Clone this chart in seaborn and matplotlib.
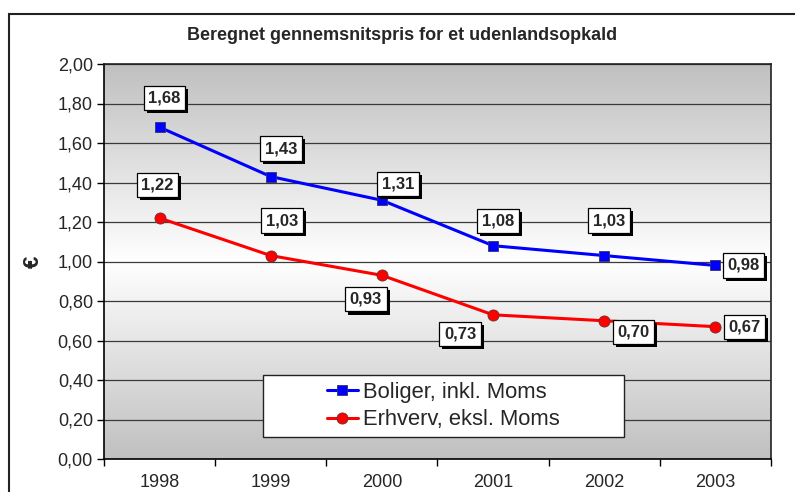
import matplotlib
matplotlib.use("Agg")
import matplotlib.pyplot as plt
import matplotlib.patheffects as pe
from matplotlib.colors import LinearSegmentedColormap
from matplotlib.patches import Rectangle
from matplotlib.ticker import FixedLocator, FuncFormatter, NullFormatter
import numpy as np
import pandas as pd
import seaborn as sns

# Data
years   = ["1998", "1999", "2000", "2001", "2002", "2003"]
boliger = [1.68, 1.43, 1.31, 1.08, 1.03, 0.98]
erhverv = [1.22, 1.03, 0.93, 0.73, 0.70, 0.67]
names   = ["Boliger, inkl. Moms", "Erhverv, eksl. Moms"]
title   = "Beregnet gennemsnitspris for et udenlandsopkald"

# where each value label sits relative to its point (pixels)
off_boliger = [(5, 29), (10, 28), (16, 16), (5, 25), (5, 35), (28, 0)]
off_erhverv = [(-2, 33), (11, 35), (-16, -24), (-33, -19), (29, -11), (29, 0)]

sns.set_style("white")
plt.rcParams["font.family"] = ["Liberation Sans", "DejaVu Sans"]

fig = plt.figure(figsize=(7.95, 4.92), dpi=100)
W, H = 795, 492
ax = fig.add_axes([104 / W, 1 - 459 / H, (771 - 104) / W, (459 - 64) / H])

# outer chart frame (runs off the right/bottom edge like the original)
fig.patches.append(Rectangle((9 / W, -0.1), 1.2, 1.1 - 14 / H, transform=fig.transFigure,
                             fill=False, edgecolor="#222222", lw=1.5))

# gradient plot area: grey - white - grey
cmap = LinearSegmentedColormap.from_list("bg", ["#c0c0c0", "#ffffff", "#c0c0c0"])
grad = np.linspace(0, 1, 256).reshape(-1, 1)
ax.imshow(grad, cmap=cmap, extent=[-0.5, 5.5, 0, 2], aspect="auto", zorder=0, origin="lower")

df = pd.DataFrame({"pos": np.arange(len(years)), "boliger": boliger, "erhverv": erhverv})

sns.lineplot(data=df, x="pos", y="boliger", ax=ax, color="#0000ff", lw=2.2,
             marker="s", markersize=7.5, markeredgecolor="#333366", markeredgewidth=0.6,
             label=names[0], zorder=4)
sns.lineplot(data=df, x="pos", y="erhverv", ax=ax, color="#ff0000", lw=2.2,
             marker="o", markersize=8, markeredgecolor="#663333", markeredgewidth=0.6,
             label=names[1], zorder=4)

ax.set_xlim(-0.5, 5.5)
ax.set_ylim(0, 2)

# category axis: tick marks between categories, labels at centres
ax.xaxis.set_major_locator(FixedLocator(np.arange(-0.5, 6, 1)))
ax.xaxis.set_major_formatter(NullFormatter())
ax.xaxis.set_minor_locator(FixedLocator(df["pos"]))
ax.xaxis.set_minor_formatter(FuncFormatter(lambda v, _: years[int(round(v))]))
ax.tick_params(axis="x", which="major", length=5, width=1, color="black", direction="out", bottom=True)
ax.tick_params(axis="x", which="minor", length=0, labelsize=13, pad=11, bottom=True)

ax.set_yticks(np.arange(0, 2.01, 0.2))
ax.yaxis.set_major_formatter(FuncFormatter(lambda v, _: f"{v:.2f}".replace(".", ",")))
ax.tick_params(axis="y", length=5, width=1, color="black", direction="out", labelsize=13, pad=3, left=True)

ax.grid(axis="y", color="#3a3a3a", lw=0.9, zorder=1)
ax.grid(axis="x", visible=False)
ax.set_axisbelow(False)
for g in ax.get_ygridlines():
    g.set_zorder(1)
for s in ax.spines.values():
    s.set_color("#222222")
    s.set_linewidth(1.2)
    s.set_zorder(3)
ax.spines["left"].set_color("black")
ax.spines["bottom"].set_color("black")

ax.set_xlabel("")
ax.set_ylabel("")

# value labels in white boxes with a black drop shadow
shadow = [pe.SimplePatchShadow(offset=(2.2, -2.2), shadow_rgbFace="black", alpha=1.0), pe.Normal()]
for vals, offs in [(boliger, off_boliger), (erhverv, off_erhverv)]:
    for i, (v, o) in enumerate(zip(vals, offs)):
        t = ax.annotate(f"{v:.2f}".replace(".", ","), (i, v), xytext=o, textcoords="offset pixels",
                        ha="center", va="center", fontsize=12, fontweight="bold", zorder=7,
                        bbox=dict(boxstyle="square,pad=0.28", fc="white", ec="black", lw=0.9))
        t.get_bbox_patch().set_path_effects(shadow)

# legend box, sized like the original
ax.add_patch(Rectangle((0.238, 0.0557), 0.541, 0.157, transform=ax.transAxes,
                       facecolor="white", edgecolor="#222222", lw=1.0, zorder=5))
leg = ax.legend(loc="center", bbox_to_anchor=(0.509, 0.134), frameon=False, fontsize=15.8,
                handlelength=1.4, handletextpad=0.25, labelspacing=0.3)
leg.set_zorder(6)

fig.text(402 / W, 1 - 36 / H, title, ha="center", va="center", fontsize=13, fontweight="bold")
fig.text(33 / W, 1 - 262 / H, "€", ha="center", va="center", rotation=90, fontsize=16, fontweight="bold")

fig.savefig("out.png", dpi=100)
